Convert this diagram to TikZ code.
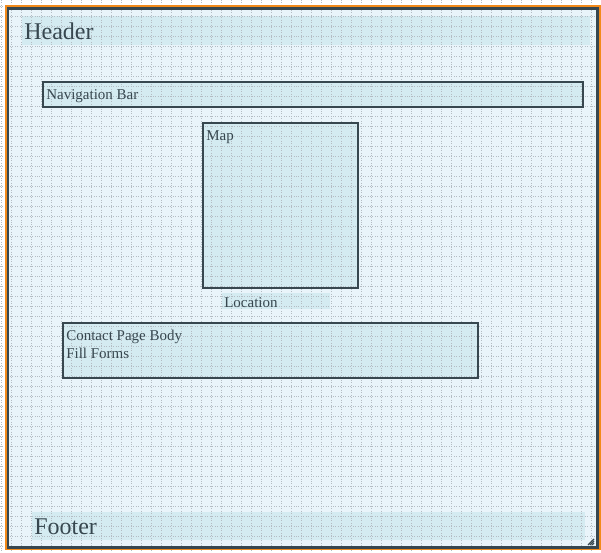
\documentclass[tikz,border=0pt]{standalone}
\usepackage{fontspec}
\setmainfont{Liberation Serif}
\usepackage{xcolor}
\usetikzlibrary{positioning}
\definecolor{framebg}{HTML}{E9F4FA}
\definecolor{bandfill}{HTML}{D4EBF1}
\definecolor{slate}{HTML}{37474F}
\definecolor{dotgray}{HTML}{B4BCC3}
\definecolor{frameorange}{HTML}{F28A1A}
\tikzset{
  band/.style={fill=bandfill,draw=none},
  box/.style={fill=bandfill,draw=slate,line width=1.6pt},
  gridline/.style={draw=dotgray,line width=0.75pt,dash pattern=on 0.75pt off 1.1pt},
  label/.style={anchor=base west,inner sep=0pt,text=slate,font=\fontsize{11.25}{13.5}\selectfont},
  bigtitle/.style={anchor=base west,inner sep=0pt,text=slate,font=\fontsize{18}{21}\selectfont}
}
\begin{document}
\begin{tikzpicture}[x=0.75pt,y=-0.75pt]
    \useasboundingbox (0,0) rectangle (601,553);
    \fill[white] (0,0) rectangle (601,553);
    \fill[framebg] (7,7) rectangle (598,548);
    % bands and boxes
    \fill[band] (22,16) rectangle (590,45);
    \fill[band] (32,512) rectangle (585,540);
    \fill[band] (222,293) rectangle (330,309);
    \fill[bandfill] (43,82) rectangle (583,107);
    \fill[bandfill] (203,123) rectangle (358,288);
    \fill[bandfill] (63,323) rectangle (478,378);
    % grid
    \foreach \gx in {1,11,...,601}
      \draw[gridline] (\gx,0) -- (\gx,553);
    \foreach \gy in {6,16,...,553}
      \draw[gridline] (0,\gy) -- (601,\gy);
    \draw[box,fill=none] (43,82) rectangle (583,107);
    \draw[box,fill=none] (203,123) rectangle (358,288);
    \draw[box,fill=none] (63,323) rectangle (478,378);
    % frame
    \draw[frameorange,line width=1.1pt] (6,6) rectangle (600,549);
    \draw[slate,line width=1.8pt] (8.2,8.6) rectangle (597.4,547.4);
    % resize grip
    \foreach \gk in {0,2,4,6}
      \draw[slate,line width=0.9pt] (594-\gk,545) -- (594,545-\gk);
    % texts
    \node at (24,39.5) [bigtitle] (header) {Header};
    \node at (34,534) [bigtitle] (footer) {Footer};
    \node at (46,99.5) [label] (navbar) {Navigation Bar};
    \node at (206,140) [label] (map) {Map};
    \node at (224,307) [label] (location) {Location};
    \node at (66,340) [label] (contact) {Contact Page Body};
    \node at (66,358) [label] (forms) {Fill Forms};
\end{tikzpicture}
\end{document}
